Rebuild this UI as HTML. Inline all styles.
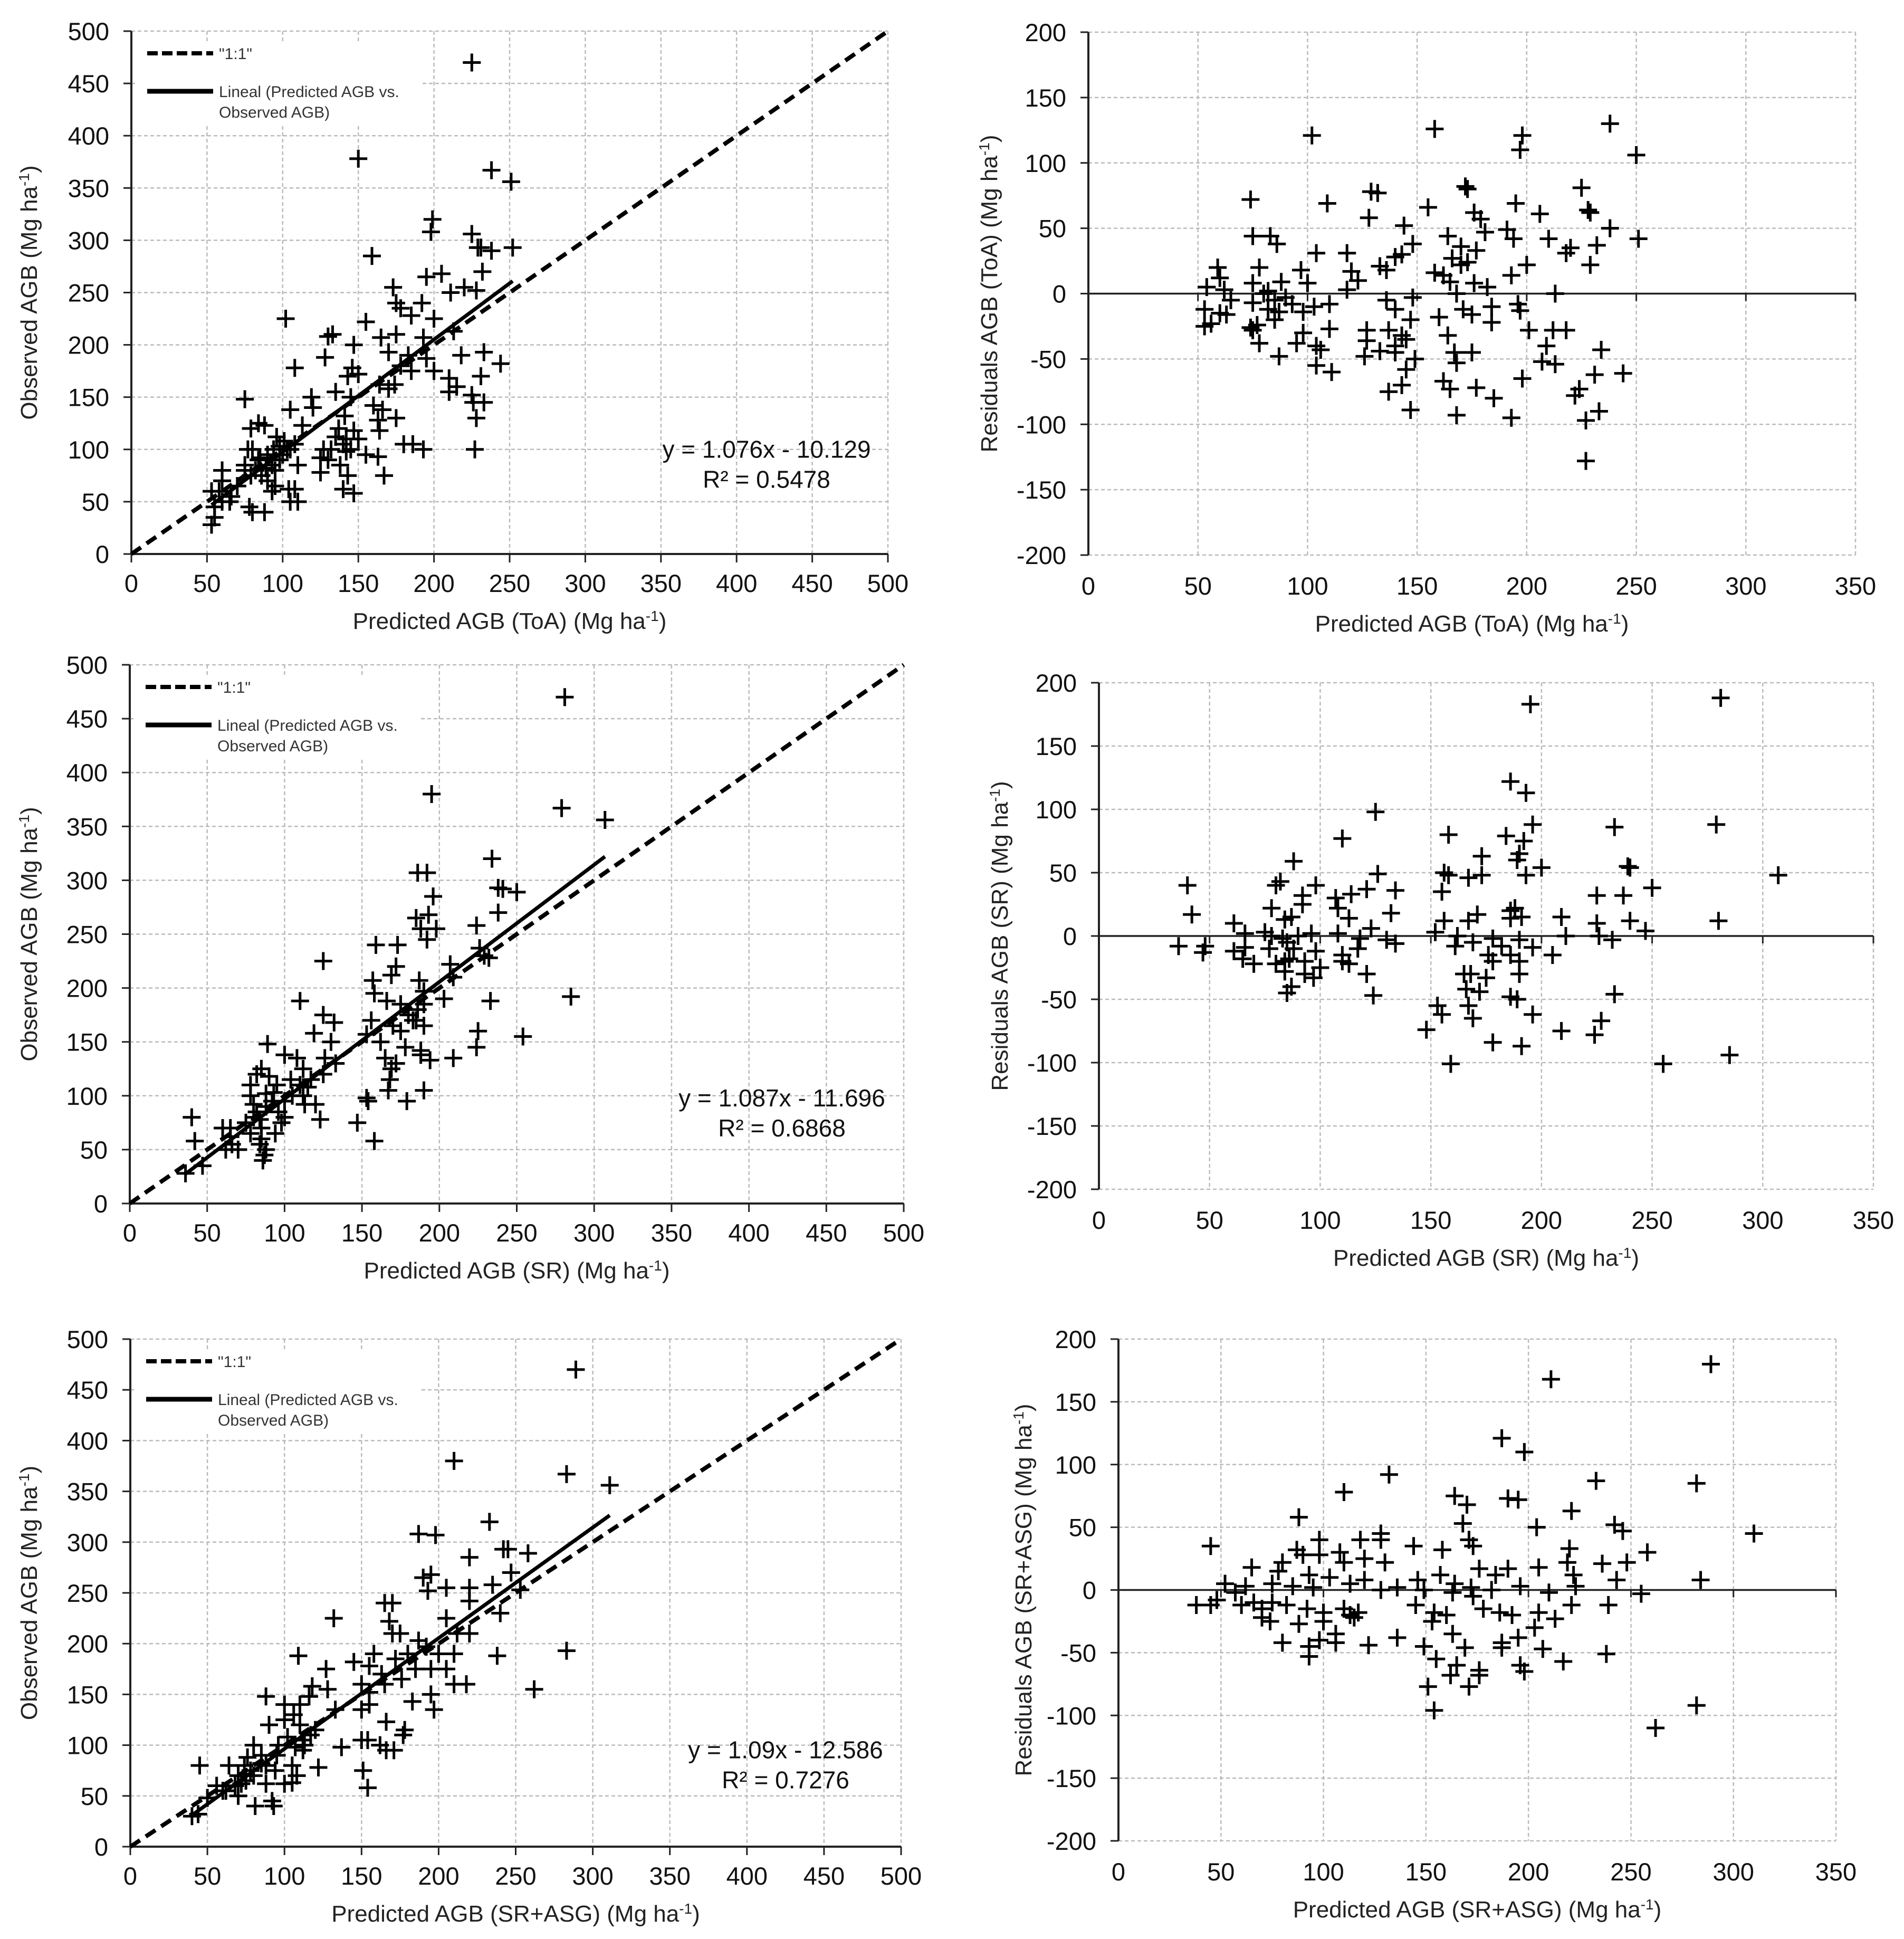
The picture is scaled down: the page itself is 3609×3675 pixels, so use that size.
<!DOCTYPE html>
<html><head><meta charset="utf-8"><style>
html,body{margin:0;padding:0;background:#fff;}
svg{display:block;font-family:"Liberation Sans",Arial,sans-serif;}
</style></head><body>
<svg id="fig" xmlns="http://www.w3.org/2000/svg" width="3609" height="3675" viewBox="0 0 3609 3675"></svg>
<script>
// ---- data (predicted, observed) and (predicted, residual) ----
const toaObs=[[225,470],[150,378],[238,367],[251,356],[199,320],[198,308],[225,306],[229,293],[231,293],[238,290],[252,293],[159,285],[232,270],[205,268],[195,265],[173,255],[211,250],[220,255],[228,252],[175,240],[178,235],[192,240],[185,228],[200,225],[102,225],[155,222],[130,208],[133,210],[193,207],[175,210],[165,207],[147,200],[213,213],[218,190],[233,193],[244,182],[183,190],[195,187],[170,193],[178,180],[108,178],[128,188],[146,178],[143,170],[150,172],[200,175],[210,168],[231,170],[185,175],[210,155],[225,152],[215,160],[226,145],[233,145],[228,130],[170,158],[164,162],[174,162],[160,142],[135,155],[119,150],[145,150],[75,148],[105,138],[120,140],[166,138],[175,130],[163,128],[141,132],[84,125],[88,123],[79,120],[113,123],[137,120],[147,118],[164,118],[142,110],[150,110],[132,100],[140,105],[180,105],[186,105],[193,100],[101,108],[96,112],[105,100],[227,100],[125,92],[130,90],[142,98],[155,95],[163,93],[110,85],[138,85],[167,75],[143,75],[125,78],[80,100],[84,90],[89,82],[93,85],[98,90],[100,95],[82,80],[86,75],[90,70],[93,60],[95,65],[104,62],[108,62],[110,50],[105,50],[79,75],[75,80],[75,85],[70,65],[66,55],[60,80],[60,70],[58,60],[53,60],[55,45],[55,35],[53,28],[60,50],[65,50],[78,45],[80,40],[88,40],[140,62],[147,58],[98,103],[94,100],[85,92],[77,100],[103,100],[108,105],[127,100],[135,112],[145,100],[90,95],[95,80]];
const toaRes=[[102,121],[158,126],[238,130],[198,121],[197,110],[250,106],[74,72],[109,69],[129,78],[132,77],[172,82],[173,80],[225,81],[155,66],[176,62],[179,57],[195,69],[206,61],[228,64],[229,62],[128,58],[75,44],[83,44],[86,38],[144,52],[148,38],[164,44],[170,36],[177,33],[191,49],[194,42],[210,42],[181,47],[220,35],[218,31],[232,37],[238,50],[251,42],[229,22],[200,22],[104,31],[118,31],[120,17],[59,20],[60,12],[97,18],[140,28],[143,30],[158,16],[162,14],[133,21],[136,18],[166,27],[170,22],[173,24],[123,10],[75,8],[78,20],[88,9],[54,5],[62,3],[100,8],[118,3],[165,9],[168,0],[182,5],[213,0],[193,14],[176,8],[80,0],[82,2],[85,-5],[90,-3],[93,-8],[65,-5],[53,-12],[60,-15],[63,-16],[75,-7],[82,-12],[87,-14],[98,-14],[103,-10],[110,-8],[136,-5],[140,-12],[148,-3],[160,-18],[171,-12],[175,-16],[184,-10],[196,-8],[197,-13],[53,-25],[56,-23],[74,-26],[75,-28],[77,-24],[85,-20],[95,-38],[98,-30],[104,-40],[110,-27],[127,-28],[127,-36],[137,-28],[140,-40],[143,-32],[145,-35],[147,-20],[164,-32],[167,-45],[184,-22],[201,-28],[212,-28],[218,-28],[78,-38],[87,-48],[104,-55],[106,-43],[111,-60],[126,-48],[133,-44],[140,-45],[145,-58],[149,-50],[162,-67],[165,-73],[168,-53],[175,-45],[177,-72],[185,-80],[198,-65],[207,-52],[209,-40],[213,-54],[234,-43],[231,-62],[244,-61],[137,-75],[143,-70],[147,-89],[168,-93],[193,-95],[222,-78],[224,-73],[227,-97],[233,-90],[227,-128]];
const srObs=[[281,470],[195,380],[279,367],[307,356],[234,320],[186,307],[192,307],[196,285],[238,293],[241,292],[250,289],[185,265],[193,268],[238,270],[188,255],[198,255],[192,245],[224,258],[159,240],[173,240],[226,237],[229,230],[232,228],[125,225],[172,220],[207,222],[209,210],[157,207],[169,212],[187,207],[190,197],[203,190],[110,188],[158,195],[166,188],[175,185],[180,175],[186,180],[233,188],[285,192],[125,175],[132,168],[156,170],[170,165],[175,160],[185,170],[190,165],[225,160],[254,155],[119,158],[153,157],[162,150],[178,145],[188,142],[194,133],[209,135],[224,145],[89,148],[100,138],[108,135],[126,135],[133,130],[130,150],[165,135],[169,125],[172,130],[112,125],[117,115],[110,110],[115,108],[104,115],[125,120],[85,125],[82,120],[90,118],[78,100],[80,92],[88,102],[93,103],[100,95],[105,100],[96,85],[98,75],[100,80],[94,65],[85,70],[80,80],[75,75],[78,65],[65,70],[60,70],[65,62],[70,50],[62,50],[66,55],[85,60],[84,55],[87,45],[86,40],[40,80],[42,58],[36,28],[47,35],[88,50],[120,92],[123,78],[147,75],[153,98],[154,95],[158,58],[167,105],[168,115],[179,95],[190,105],[112,100],[113,92],[188,138],[183,170],[190,185],[82,85],[84,78],[88,90],[92,95],[95,110],[78,110]];
const srRes=[[281,188],[195,183],[186,122],[193,113],[125,98],[279,88],[196,88],[233,86],[110,77],[158,80],[184,79],[192,75],[190,65],[189,60],[173,63],[88,59],[239,55],[240,54],[200,54],[307,48],[126,49],[156,50],[158,48],[167,46],[173,48],[193,48],[40,40],[82,43],[80,40],[98,40],[92,32],[107,30],[114,33],[121,37],[134,36],[155,35],[225,32],[237,32],[250,38],[42,17],[78,22],[92,25],[108,22],[132,18],[171,17],[186,20],[188,22],[209,15],[225,10],[240,12],[280,12],[61,10],[84,13],[87,15],[113,14],[156,12],[167,12],[186,14],[191,15],[247,4],[123,6],[152,3],[75,3],[66,2],[78,0],[83,-2],[90,0],[96,2],[108,2],[118,-2],[162,0],[178,-2],[190,-3],[211,0],[226,0],[232,-3],[36,-8],[48,-8],[47,-13],[61,-12],[66,-9],[77,-10],[85,-5],[88,-10],[98,-12],[110,-15],[117,-10],[130,-3],[134,-6],[161,-8],[169,-5],[176,-15],[182,-8],[196,-9],[205,-15],[65,-18],[70,-22],[80,-22],[84,-20],[86,-18],[93,-20],[100,-25],[110,-20],[113,-22],[165,-30],[168,-30],[178,-20],[186,-15],[190,-20],[84,-28],[93,-30],[97,-33],[121,-30],[175,-33],[190,-30],[85,-45],[87,-40],[124,-47],[233,-46],[166,-42],[172,-44],[186,-48],[189,-50],[153,-55],[155,-62],[167,-55],[169,-65],[196,-62],[227,-67],[148,-74],[209,-75],[224,-78],[178,-84],[191,-87],[159,-101],[255,-101],[285,-94]];
const asgObs=[[289,470],[210,380],[283,367],[311,356],[233,320],[187,308],[198,307],[220,285],[242,293],[245,293],[258,289],[247,270],[190,265],[195,268],[235,258],[205,255],[220,255],[253,253],[193,252],[165,240],[170,240],[220,242],[240,230],[132,225],[205,225],[168,222],[170,210],[175,210],[212,210],[220,210],[187,203],[192,197],[158,190],[200,190],[210,190],[109,188],[145,182],[172,185],[180,190],[238,188],[283,193],[127,175],[155,178],[163,170],[185,175],[195,175],[205,175],[210,160],[218,160],[262,155],[128,155],[118,158],[116,148],[150,160],[155,152],[165,160],[176,165],[183,143],[195,150],[197,135],[88,148],[100,140],[110,140],[106,130],[133,135],[150,135],[155,140],[166,123],[178,115],[177,110],[90,120],[100,125],[110,120],[117,110],[113,100],[107,98],[96,100],[80,100],[85,90],[76,88],[88,80],[94,75],[105,80],[112,95],[122,78],[137,98],[150,105],[154,105],[162,100],[166,95],[171,95],[151,75],[154,58],[45,80],[64,80],[56,60],[62,55],[68,60],[72,62],[70,50],[75,65],[80,70],[88,62],[92,45],[93,40],[81,40],[100,62],[105,63],[108,70],[40,30],[44,32],[50,48],[60,55],[70,70],[85,82],[95,90],[102,108],[112,105],[120,115],[78,75],[74,80]];
const asgRes=[[289,180],[211,168],[187,121],[198,110],[132,92],[233,87],[282,85],[110,78],[164,75],[190,73],[195,72],[88,58],[170,68],[168,53],[221,63],[204,50],[242,52],[246,47],[310,45],[45,35],[128,45],[128,40],[144,35],[171,40],[173,35],[158,32],[98,40],[108,30],[118,40],[87,32],[90,28],[98,28],[110,22],[120,25],[130,22],[176,17],[190,17],[205,18],[220,33],[219,22],[236,21],[248,22],[258,30],[65,18],[78,15],[80,22],[93,12],[103,10],[113,5],[120,8],[146,8],[157,12],[164,5],[184,12],[222,12],[243,8],[284,8],[52,5],[62,3],[75,5],[85,3],[95,2],[128,0],[136,2],[149,0],[163,-2],[172,2],[182,0],[196,3],[210,-2],[223,3],[255,-3],[38,-12],[45,-12],[48,-8],[57,-2],[60,-12],[66,-10],[70,-15],[75,-10],[82,-12],[92,-15],[100,-18],[110,-15],[113,-20],[117,-18],[145,-12],[154,-18],[160,-20],[178,-15],[186,-18],[192,-20],[205,-18],[213,-23],[221,-12],[239,-12],[70,-22],[74,-25],[88,-27],[100,-25],[106,-35],[115,-22],[136,-38],[153,-25],[163,-35],[173,-5],[187,-42],[195,-38],[203,-30],[80,-42],[93,-45],[93,-53],[98,-40],[106,-42],[122,-44],[149,-45],[155,-55],[169,-46],[187,-46],[196,-60],[198,-65],[207,-47],[217,-57],[238,-51],[165,-60],[162,-68],[176,-64],[176,-68],[171,-77],[151,-77],[154,-96],[262,-110],[282,-92]];
const obsTicks=[0,50,100,150,200,250,300,350,400,450,500];
const resXTicks=[0,50,100,150,200,250,300,350];
const resYTicks=[-200,-150,-100,-50,0,50,100,150,200];
const fitSlopes=[1.076,1.087,1.09];
const fitIntercepts=[-10.129,-11.696,-12.586];
const fitLabels=["y = 1.076x - 10.129","y = 1.087x - 11.696","y = 1.09x - 12.586"];
const r2Labels=["R² = 0.5478","R² = 0.6868","R² = 0.7276"];
const predLabels=["ToA","SR","SR+ASG"];

const NS="http://www.w3.org/2000/svg";
const svg=document.getElementById('fig');
function mk(tag,attrs,parent){const e=document.createElementNS(NS,tag);for(const k in attrs)e.setAttribute(k,attrs[k]);(parent||svg).appendChild(e);return e;}

function titleText(g,x,y,pre,rot,name){
  const t=mk('text',{x:x,y:y,'font-size':44,'text-anchor':'middle',fill:'#222'},g);
  if(rot)t.setAttribute('transform','rotate(-90 '+x+' '+y+')');
  
  
  const a=mk('tspan',{},t);a.textContent=pre+' (Mg ha';
  const b=mk('tspan',{'baseline-shift':'super','font-size':28},t);b.textContent='-1';
  const c=mk('tspan',{},t);c.textContent=')';
  return t;
}

function drawPlus(g,x,y){
  const p=mk('path',{d:'M'+(x-17)+' '+y+'H'+(x+17)+'M'+x+' '+(y-17)+'V'+(y+17),stroke:'#000','stroke-width':5,fill:'none'},g);
  
  
}

function obsPlot(L,idx,pts){
  const g=mk('g',{});
  
  
  const sx=v=>L.x0+(L.x1-L.x0)*v/500, sy=v=>L.y0-(L.y0-L.y1)*v/500;
  obsTicks.forEach(t=>{
    if(t>0){mk('line',{x1:sx(t),y1:L.y1,x2:sx(t),y2:L.y0,stroke:'#bbb','stroke-width':2.5,'stroke-dasharray':'7 5'},g);
            mk('line',{x1:L.x0,y1:sy(t),x2:L.x1,y2:sy(t),stroke:'#bbb','stroke-width':2.5,'stroke-dasharray':'7 5'},g);}
  });
  mk('rect',{x:L.x0+12,y:L.y1+22,width:540,height:155,fill:'#fff'},g);
  mk('line',{x1:L.x0,y1:L.y0,x2:L.x1,y2:L.y0,stroke:'#222','stroke-width':4},g);
  mk('line',{x1:L.x0,y1:L.y0,x2:L.x0,y2:L.y1,stroke:'#222','stroke-width':4},g);
  obsTicks.forEach(t=>{
    mk('line',{x1:sx(t),y1:L.y0,x2:sx(t),y2:L.y0+16,stroke:'#222','stroke-width':3},g);
    mk('line',{x1:L.x0-15,y1:sy(t),x2:L.x0,y2:sy(t),stroke:'#222','stroke-width':3},g);
    const tx=mk('text',{x:sx(t),y:L.y0+72,'font-size':47,'text-anchor':'middle',fill:'#111'},g);tx.textContent=t;
    
    const ty=mk('text',{x:L.x0-42,y:sy(t)+17,'font-size':47,'text-anchor':'end',fill:'#111'},g);ty.textContent=t;
    
  });
  const one=mk('line',{x1:sx(0),y1:sy(0),x2:sx(500),y2:sy(500),stroke:'#000','stroke-width':8,'stroke-dasharray':'22 13'},g);
  
  pts.forEach(p=>drawPlus(g,sx(p[0]),sy(p[1])));
  let mn=Infinity,mx=-Infinity;pts.forEach(p=>{mn=Math.min(mn,p[0]);mx=Math.max(mx,p[0]);});
  const a=fitSlopes[idx],b=fitIntercepts[idx];
  const fl=mk('line',{x1:sx(mn),y1:sy(a*mn+b),x2:sx(mx),y2:sy(a*mx+b),stroke:'#000','stroke-width':7},g);
  
  const ly=L.y1+42;
  mk('line',{x1:L.x0+30,y1:ly,x2:L.x0+155,y2:ly,stroke:'#000','stroke-width':8,'stroke-dasharray':'20 8'},g);
  const l1=mk('text',{x:L.x0+166,y:ly+11,'font-size':30,fill:'#333'},g);l1.textContent='"1:1"';
  
  mk('line',{x1:L.x0+30,y1:ly+72,x2:L.x0+155,y2:ly+72,stroke:'#000','stroke-width':9},g);
  const l2=mk('text',{x:L.x0+166,y:ly+83,'font-size':30,fill:'#333'},g);l2.textContent='Lineal (Predicted AGB vs.';
  
  const l3=mk('text',{x:L.x0+166,y:ly+122,'font-size':30,fill:'#333'},g);l3.textContent='Observed AGB)';
  const e1=mk('text',{x:L.x1-L.eqdx,y:sy(L.eqv),'font-size':46,'text-anchor':'middle',fill:'#111'},g);e1.textContent=fitLabels[idx];
  
  const e2=mk('text',{x:L.x1-L.eqdx,y:sy(L.eqv)+57,'font-size':46,'text-anchor':'middle',fill:'#111'},g);e2.textContent=r2Labels[idx];
  
  titleText(g,(L.x0+L.x1)/2,L.y0+142,'Predicted AGB ('+predLabels[idx]+')',false,'x-axis-title');
  titleText(g,L.ytx,(L.y0+L.y1)/2,'Observed AGB',true,'y-axis-title');
}

function resPlot(L,idx,pts){
  const g=mk('g',{});
  
  
  const sx=v=>L.x0+(L.x1-L.x0)*v/350, sy=v=>L.y0-(L.y0-L.y1)*(v+200)/400;
  resXTicks.forEach(t=>{if(t>0)mk('line',{x1:sx(t),y1:L.y1,x2:sx(t),y2:L.y0,stroke:'#bbb','stroke-width':2.5,'stroke-dasharray':'7 5'},g);});
  resYTicks.forEach(t=>{if(t!==0)mk('line',{x1:L.x0,y1:sy(t),x2:L.x1,y2:sy(t),stroke:'#bbb','stroke-width':2.5,'stroke-dasharray':'7 5'},g);});
  mk('line',{x1:L.x0,y1:L.y0,x2:L.x0,y2:L.y1,stroke:'#222','stroke-width':4},g);
  mk('line',{x1:L.x0,y1:sy(0),x2:L.x1,y2:sy(0),stroke:'#222','stroke-width':3.5},g);
  resYTicks.forEach(t=>{
    mk('line',{x1:L.x0-15,y1:sy(t),x2:L.x0,y2:sy(t),stroke:'#222','stroke-width':3},g);
    const ty=mk('text',{x:L.x0-42,y:sy(t)+17,'font-size':47,'text-anchor':'end',fill:'#111'},g);ty.textContent=t;
    
  });
  resXTicks.forEach(t=>{
    mk('line',{x1:sx(t),y1:sy(0),x2:sx(t),y2:sy(0)+14,stroke:'#222','stroke-width':3},g);
    const tx=mk('text',{x:sx(t),y:L.y0+75,'font-size':47,'text-anchor':'middle',fill:'#111'},g);tx.textContent=t;
    
  });
  pts.forEach(p=>drawPlus(g,sx(p[0]),sy(p[1])));
  titleText(g,(L.x0+L.x1)/2,L.y0+145,'Predicted AGB ('+predLabels[idx]+')',false,'x-axis-title');
  titleText(g,L.ytx,(L.y0+L.y1)/2,'Residuals AGB ('+predLabels[idx]+')',true,'y-axis-title');
}

obsPlot({x0:249,x1:1683,y0:1050,y1:59,eqv:92,eqdx:230,ytx:70},0,toaObs);
obsPlot({x0:246,x1:1713,y0:2281,y1:1260,eqv:90,eqdx:231,ytx:70},1,srObs);
obsPlot({x0:247,x1:1708,y0:3500,y1:2538,eqv:87,eqdx:219,ytx:70},2,asgObs);
resPlot({x0:2063,x1:3517,y0:1052,y1:61,ytx:1890},0,toaRes);
resPlot({x0:2083,x1:3551,y0:2254,y1:1294,ytx:1910},1,srRes);
resPlot({x0:2120,x1:3480,y0:3489,y1:2538,ytx:1955},2,asgRes);
</script>
</body></html>
